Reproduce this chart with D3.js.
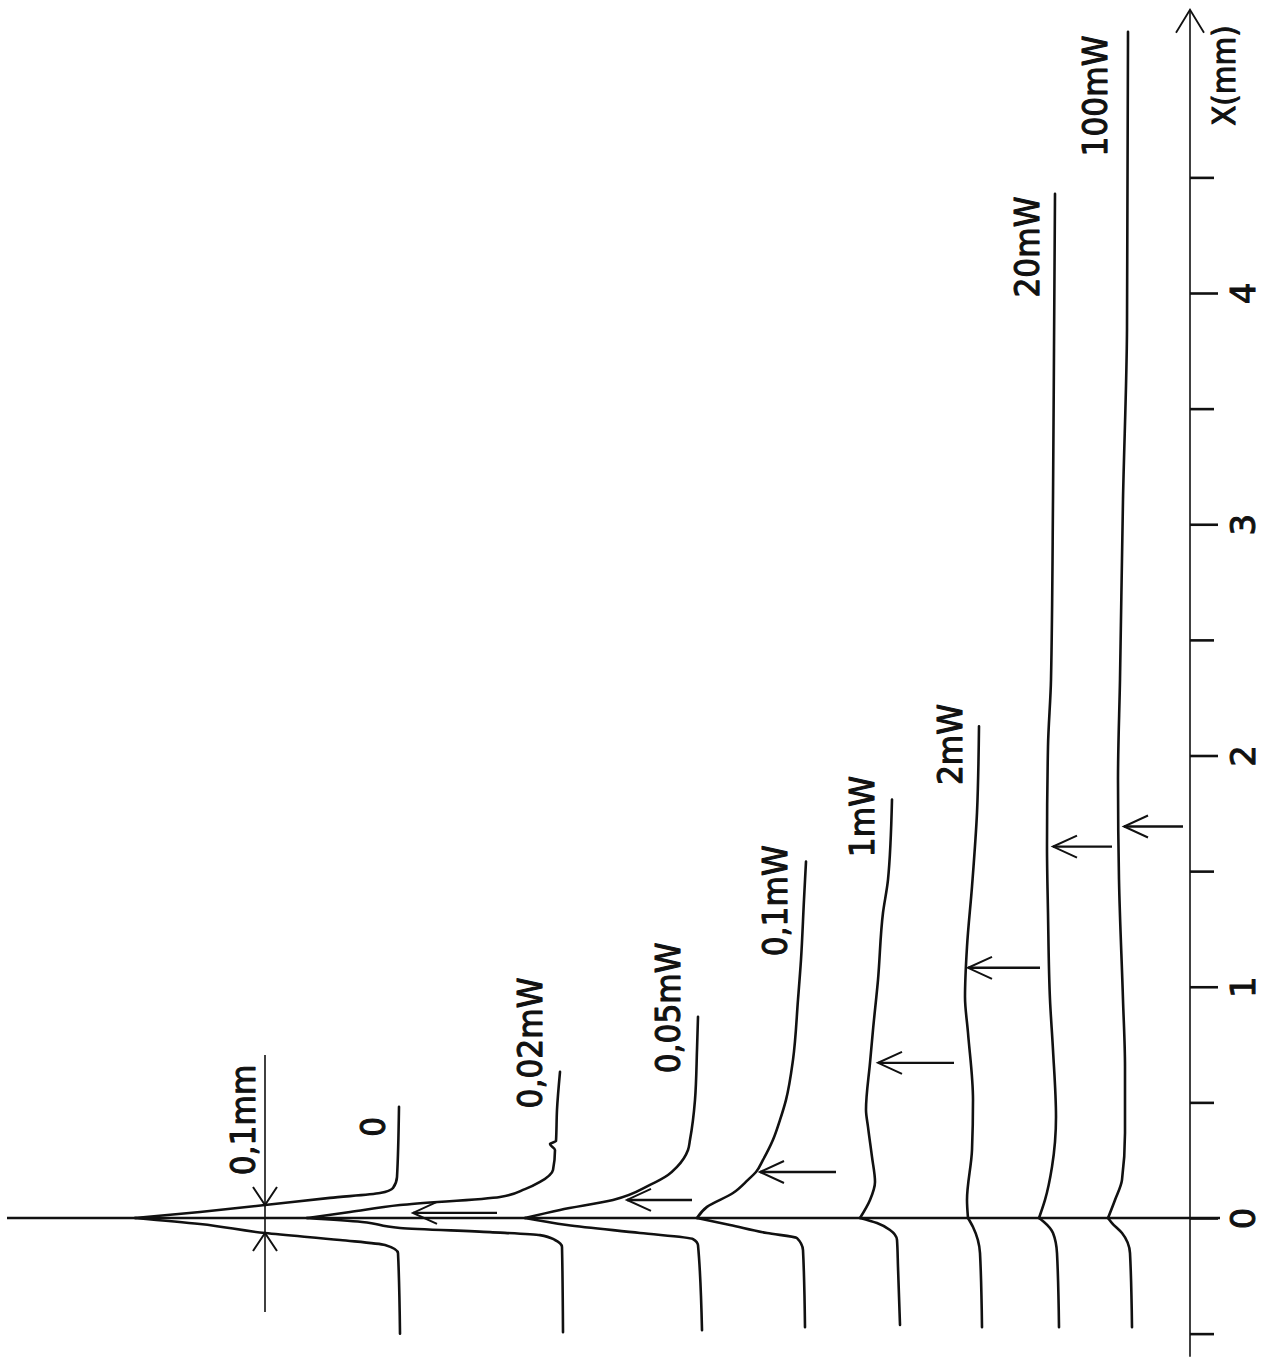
<!DOCTYPE html>
<html>
<head>
<meta charset="utf-8">
<script src="https://cdn.jsdelivr.net/npm/d3@7"></script>
<style>
  html, body { margin: 0; padding: 0; background: #fff; }
  svg { display: block; }
  text { font-family: "DejaVu Sans", sans-serif; fill: #111; }
</style>
</head>
<body>
<script>
// ---------- DATA (X in mm along the vertical axis, signal in arbitrary units) ----------
const seriesNames = ["0", "0,02mW", "0,05mW", "0,1mW", "1mW", "2mW", "20mW", "100mW"];

const trace_0 = [[-0.50,4.00],[-0.152,3.98],[-0.117,3.85],[-0.095,3.40],[-0.065,2.65],[-0.026,2.00],[0,1.35],
                 [0.026,2.00],[0.056,2.65],[0.087,3.30],[0.108,3.80],[0.130,3.93],[0.177,3.97],[0.481,3.99]];
const trace_002 = [[-0.494,5.63],[-0.125,5.62],[-0.095,5.55],[-0.074,5.40],[-0.061,4.90],[-0.043,4.00],[-0.017,3.62],[0,3.07],
                   [0.026,3.50],[0.056,4.00],[0.091,5.00],[0.125,5.25],[0.156,5.40],[0.208,5.53],[0.294,5.55],[0.320,5.50],
                   [0.333,5.56],[0.468,5.57],[0.632,5.60]];
const trace_005 = [[-0.485,7.02],[-0.117,6.98],[-0.091,6.93],[-0.065,6.40],[-0.030,5.67],[0,5.25],
                   [0.035,5.60],[0.078,6.13],[0.143,6.50],[0.186,6.68],[0.221,6.77],[0.294,6.88],[0.338,6.90],
                   [0.511,6.95],[0.727,6.97],[0.870,6.98]];
const trace_01 = [[-0.472,8.05],[-0.139,8.03],[-0.087,7.97],[-0.065,7.67],[-0.030,7.30],[0,6.97],
                  [0.048,7.07],[0.108,7.33],[0.165,7.48],[0.199,7.56],[0.251,7.63],[0.338,7.73],[0.424,7.80],
                  [0.511,7.86],[0.684,7.93],[0.944,7.98],[1.117,8.01],[1.377,8.04],[1.541,8.06]];
const trace_1 = [[-0.463,9.00],[-0.212,8.98],[-0.095,8.97],[-0.052,8.90],[-0.022,8.77],[0,8.60],
                 [0.078,8.70],[0.156,8.75],[0.264,8.72],[0.394,8.68],[0.468,8.66],[0.671,8.70],[0.814,8.73],
                 [1.030,8.78],[1.320,8.83],[1.463,8.88],[1.810,8.92]];
const trace_2 = [[-0.472,9.82],[-0.152,9.80],[-0.039,9.73],[0,9.68],
                 [0.078,9.67],[0.294,9.72],[0.511,9.73],[0.801,9.68],[0.957,9.65],[1.173,9.67],[1.433,9.72],
                 [1.753,9.77],[2.126,9.79]];
const trace_20 = [[-0.472,10.59],[-0.152,10.57],[-0.065,10.53],[-0.017,10.44],[0,10.39],
                  [0.078,10.45],[0.221,10.52],[0.437,10.56],[0.727,10.53],[0.944,10.50],[1.320,10.48],[1.606,10.47],
                  [2.039,10.48],[2.329,10.51],[3.108,10.53],[3.758,10.54],[4.429,10.55]];
const trace_100 = [[-0.472,11.32],[-0.152,11.30],[-0.065,11.22],[-0.022,11.12],[0,11.08],
                   [0.078,11.15],[0.165,11.22],[0.368,11.25],[0.654,11.25],[0.944,11.23],[1.463,11.19],[1.896,11.18],
                   [2.329,11.20],[3.108,11.23],[3.844,11.27],[5.130,11.28]];
const traces = [trace_0, trace_002, trace_005, trace_01, trace_1, trace_2, trace_20, trace_100];

// arrows marking a position on each trace: X (mm), tail signal, tip signal
const arrowSeries = ["0,02mW", "0,05mW", "0,1mW", "1mW", "2mW", "20mW", "100mW"];
const arrowX    = [0.022, 0.078, 0.199, 0.671, 1.082, 1.606, 1.693];
const arrowTail = [4.97, 6.92, 8.36, 9.54, 10.40, 11.12, 11.83];
const arrowTip  = [4.13, 6.27, 7.60, 8.78, 9.68, 10.53, 11.24];

// axis ticks
const majorTicks = [0, 1, 2, 3, 4];
const minorTicks = [-0.5, 0.5, 1.5, 2.5, 3.5, 4.5];
const axisTitle = "X(mm)";

// width marker
const markerLabel = "0,1mm";

// ---------- LAYOUT ----------
const W = 1267, H = 1357;
const ys = d3.scaleLinear().domain([0, 4]).range([1218, 293]);
const xs = d3.scaleLinear().domain([0, 12]).range([0, 1200]);

// label placement (X mm, signal)
const labelPos = [[0.394,3.73],[0.757,5.30],[0.909,6.68],[1.372,7.75],[1.736,8.62],[2.048,9.50],[4.199,10.27],[4.852,10.95]];

const svg = d3.select("body").append("svg").attr("width", W).attr("height", H);
svg.append("rect").attr("width", W).attr("height", H).attr("fill", "#fff");

const lineGen = d3.line().x(d => xs(d[1])).y(d => ys(d[0])).curve(d3.curveMonotoneY);

// zero line
svg.append("line")
  .attr("x1", xs(0.07)).attr("x2", xs(12.2))
  .attr("y1", ys(0)).attr("y2", ys(0))
  .attr("stroke", "#111").attr("stroke-width", 2.6);

// traces (lower and upper branch drawn separately for a sharp tip)
const gT = svg.append("g");
traces.forEach((tr) => {
  const lower = tr.filter(d => d[0] <= 0);
  const upper = tr.filter(d => d[0] >= 0);
  [lower, upper].forEach(seg => {
    gT.append("path").attr("d", lineGen(seg))
      .attr("fill", "none").attr("stroke", "#111")
      .attr("stroke-width", 2.6).attr("stroke-linejoin", "round").attr("stroke-linecap", "round");
  });
});

// series labels
const fontSize = 34;
function label(sel) {
  return sel.attr("text-anchor", "middle").attr("dy", "0.36em")
    .attr("stroke", "#111").attr("stroke-width", 1.1).attr("stroke-linejoin", "round");
}
seriesNames.forEach((name, i) => {
  const p = labelPos[i];
  label(svg.append("text")
    .attr("transform", `translate(${xs(p[1])},${ys(p[0])}) rotate(-90) scale(0.92,1)`)
    .attr("font-size", fontSize).text(name));
});

// arrows
function arrowHead(g, tipX, tipY, dir) {
  let a, b;
  if (dir === "left") { a = [tipX + 24, tipY - 11]; b = [tipX + 24, tipY + 11]; }
  else if (dir === "down") { a = [tipX - 12, tipY - 18]; b = [tipX + 12, tipY - 18]; }
  else { a = [tipX - 12, tipY + 18]; b = [tipX + 12, tipY + 18]; }
  g.append("path").attr("d", `M${a[0]},${a[1]}L${tipX},${tipY}L${b[0]},${b[1]}`)
    .attr("fill", "none").attr("stroke", "#111").attr("stroke-width", 2);
}
const gA = svg.append("g");
arrowX.forEach((x, i) => {
  const y = ys(x);
  gA.append("line").attr("x1", xs(arrowTail[i])).attr("x2", xs(arrowTip[i]))
    .attr("y1", y).attr("y2", y).attr("stroke", "#111").attr("stroke-width", 2.4);
  arrowHead(gA, xs(arrowTip[i]), y, "left");
});

// 0,1 mm width marker
const mS = 2.65;
svg.append("line").attr("x1", xs(mS)).attr("x2", xs(mS))
  .attr("y1", ys(0.705)).attr("y2", ys(-0.407)).attr("stroke", "#111").attr("stroke-width", 1.6);
arrowHead(svg, xs(mS), ys(0.056), "down");
arrowHead(svg, xs(mS), ys(-0.065), "up");
label(svg.append("text")
  .attr("transform", `translate(${xs(2.43)},${ys(0.424)}) rotate(-90) scale(0.92,1)`)
  .attr("font-size", fontSize).text(markerLabel));

// vertical X axis
const axX = xs(11.9);
const gAx = svg.append("g").attr("transform", `translate(${axX},0)`);
gAx.append("line").attr("x1", 0).attr("x2", 0).attr("y1", ys(-0.6)).attr("y2", ys(5.225))
  .attr("stroke", "#111").attr("stroke-width", 1.6);
gAx.append("path").attr("d", `M-14,${ys(5.225) + 23}L0,${ys(5.225)}L14,${ys(5.225) + 23}`)
  .attr("fill", "none").attr("stroke", "#111").attr("stroke-width", 1.8);

const majorAxis = d3.axisRight(ys).tickValues(majorTicks).tickSize(28).tickSizeOuter(0).tickFormat(d3.format("d"));
const gMaj = svg.append("g").attr("transform", `translate(${axX},0)`).call(majorAxis);
gMaj.select(".domain").remove();
gMaj.selectAll(".tick line").attr("stroke", "#111").attr("stroke-width", 2.6);
gMaj.selectAll(".tick text")
  .attr("x", null).attr("dy", null)
  .attr("transform", "translate(53,0) rotate(-90)")
  .attr("text-anchor", "middle").attr("dominant-baseline", "central")
  .attr("font-size", 34).attr("font-family", "DejaVu Sans").attr("fill", "#111")
  .attr("stroke", "#111").attr("stroke-width", 1);

const minorAxis = d3.axisRight(ys).tickValues(minorTicks).tickSize(24).tickSizeOuter(0).tickFormat("");
const gMin = svg.append("g").attr("transform", `translate(${axX},0)`).call(minorAxis);
gMin.select(".domain").remove();
gMin.selectAll(".tick line").attr("stroke", "#111").attr("stroke-width", 2.6);

label(svg.append("text")
  .attr("transform", `translate(${axX + 33},${ys(4.94)}) rotate(-90) scale(0.92,1)`)
  .attr("font-size", 32).text(axisTitle));
</script>
</body>
</html>
